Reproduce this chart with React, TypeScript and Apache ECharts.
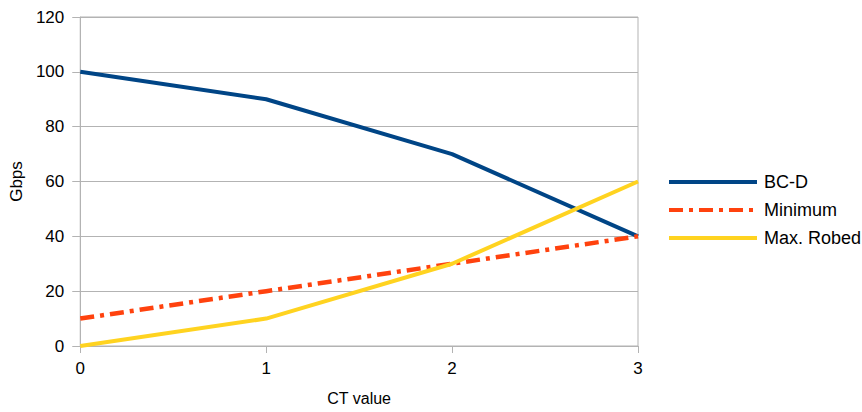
import React, { useEffect, useRef } from "react";
import * as echarts from "echarts";

const xValues = [0, 1, 2, 3];
const bcd = [100, 90, 70, 40];
const minimum = [10, 20, 30, 40];
const maxRobed = [0, 10, 30, 60];
const seriesNames = ["BC-D", "Minimum", "Max. Robed"];

const FONT = "'Liberation Sans', Arial, sans-serif";

export default function App() {
  const ref = useRef<HTMLDivElement>(null);
  useEffect(() => {
    if (!ref.current) return;
    const chart = echarts.init(ref.current, null, { renderer: "svg" });
    const pair = (arr: number[]) => xValues.map((x, i) => [x, arr[i]]);
    chart.setOption({
      animation: false,
      backgroundColor: "#ffffff",
      textStyle: { fontFamily: FONT, color: "#000" },
      grid: {
        left: 80,
        right: 224,
        top: 17,
        bottom: 66,
        show: true,
        borderColor: "#b3b3b3",
        borderWidth: 1,
        containLabel: false,
      },
      legend: {
        orient: "vertical",
        left: 662,
        top: 168,
        itemWidth: 88,
        itemHeight: 16,
        itemGap: 10,
        itemStyle: { opacity: 0 },
        lineStyle: { width: 4 },
        textStyle: { fontFamily: FONT, fontSize: 18, color: "#000", padding: [0, 0, 0, 2] },
        data: seriesNames,
      },
      xAxis: {
        type: "value",
        min: 0,
        max: 3,
        interval: 1,
        name: "CT value",
        nameLocation: "middle",
        nameGap: 44,
        nameTextStyle: { fontFamily: FONT, fontSize: 16, color: "#000" },
        axisLine: { show: true, lineStyle: { color: "#b3b3b3", width: 1 } },
        axisTick: { show: true, length: 7, lineStyle: { color: "#b3b3b3" } },
        axisLabel: { fontFamily: FONT, fontSize: 17, color: "#000", margin: 14 },
        splitLine: { show: false },
      },
      yAxis: {
        type: "value",
        min: 0,
        max: 120,
        interval: 20,
        name: "Gbps",
        nameLocation: "middle",
        nameGap: 54,
        nameRotate: 90,
        nameTextStyle: { fontFamily: FONT, fontSize: 17, color: "#000" },
        axisLine: { show: true, lineStyle: { color: "#b3b3b3", width: 1 } },
        axisTick: { show: true, length: 8, lineStyle: { color: "#b3b3b3" } },
        axisLabel: { fontFamily: FONT, fontSize: 17, color: "#000", margin: 16 },
        splitLine: { show: true, lineStyle: { color: "#b3b3b3", width: 1 } },
      },
      series: [
        {
          name: seriesNames[0],
          type: "line",
          data: pair(bcd),
          symbol: "none",
          color: "#004586",
          lineStyle: { color: "#004586", width: 4 },
        },
        {
          name: seriesNames[1],
          type: "line",
          data: pair(minimum),
          symbol: "none",
          color: "#ff420e",
          lineStyle: { color: "#ff420e", width: 4.5, type: [14, 6, 4, 6] },
        },
        {
          name: seriesNames[2],
          type: "line",
          data: pair(maxRobed),
          symbol: "none",
          color: "#ffd320",
          lineStyle: { color: "#ffd320", width: 4 },
        },
      ],
    });
    return () => chart.dispose();
  }, []);
  return (
    <div
      ref={ref}
      style={{ position: "fixed", left: 0, top: 0, width: 862, height: 412 }}
    />
  );
}
